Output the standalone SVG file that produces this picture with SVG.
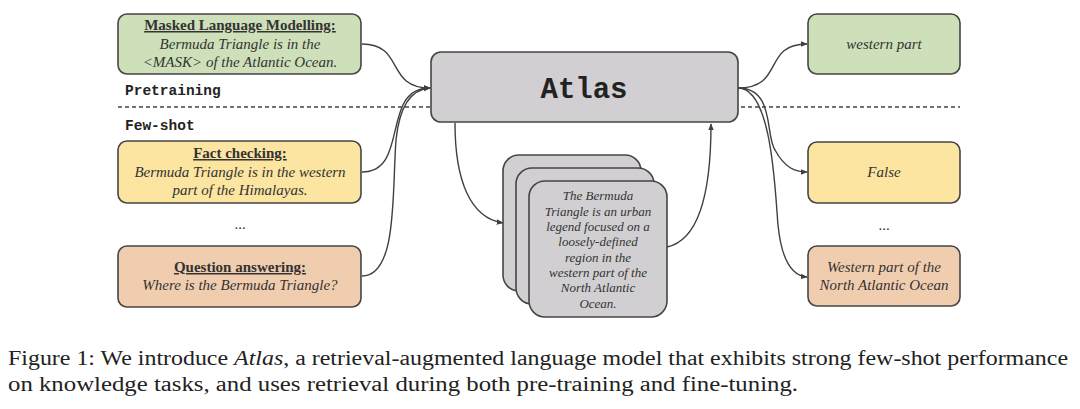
<svg xmlns="http://www.w3.org/2000/svg" width="1080" height="409" viewBox="0 0 1080 409">
<style>
.box{stroke:#454545;stroke-width:1.6}
.g{fill:#cde0b9}.y{fill:#fbe5a0}.o{fill:#f1cdb0}.gr{fill:#d1cfd1}
.t{font-family:"Liberation Serif","Times New Roman","DejaVu Serif",serif;font-size:15px;fill:#333;text-anchor:middle}
.i{font-style:italic}
.b{font-weight:bold;text-decoration:underline}
.m{font-family:"Liberation Mono","Courier New","DejaVu Sans Mono",monospace;font-weight:bold;fill:#222}
.c{fill:none;stroke:#404040;stroke-width:1.4}
.cap{font-family:"Liberation Serif","Times New Roman","DejaVu Serif",serif;font-size:20.5px;fill:#222}
</style>
<defs>
<marker id="ah" viewBox="0 0 10 10" refX="9" refY="5" markerWidth="7" markerHeight="7" markerUnits="userSpaceOnUse" orient="auto">
<path d="M0,1 L10,5 L0,9 z" fill="#404040"/>
</marker>
</defs>
<rect width="1080" height="409" fill="#fff"/>
<line x1="118" y1="107" x2="960" y2="107" stroke="#444" stroke-width="1.4" stroke-dasharray="4,3"/>
<text class="m" x="125" y="95" font-size="14.5">Pretraining</text>
<text class="m" x="125" y="130" font-size="14.5">Few-shot</text>

<g id="connectors">
<path class="c" marker-end="url(#ah)" d="M362,44 C405,44 385,88 430,88"/>
<path class="c" marker-end="url(#ah)" d="M362,172 C410,172 380,88 430,88"/>
<path class="c" marker-end="url(#ah)" d="M362,276 C398,276 392,190 396,140 C400,100 415,89 430,88"/>
<path class="c" marker-end="url(#ah)" d="M455,123 C455,180 470,218 503,223"/>
<path class="c" marker-end="url(#ah)" d="M667,247 C700,240 711,190 711,124"/>
<path class="c" marker-end="url(#ah)" d="M738,88 C785,88 762,44 807,44"/>
<path class="c" marker-end="url(#ah)" d="M738,88 C775,88 765,135 775,150 C785,168 795,172 807,172"/>
<path class="c" marker-end="url(#ah)" d="M738,88 C772,88 775,190 778,225 C782,265 795,276 807,277"/>
</g>

<g id="mlm">
<rect class="box g" x="118" y="14" width="243" height="60" rx="9"/>
<text class="t b" x="240" y="30">Masked Language Modelling:</text>
<text class="t i" x="240" y="49">Bermuda Triangle is in the</text>
<text class="t i" x="240" y="67">&lt;MASK&gt; of the Atlantic Ocean.</text>
</g>
<g id="fact">
<rect class="box y" x="118" y="141" width="243" height="62" rx="9"/>
<text class="t b" x="240" y="158">Fact checking:</text>
<text class="t i" x="240" y="177">Bermuda Triangle is in the western</text>
<text class="t i" x="240" y="195">part of the Himalayas.</text>
</g>
<text class="t" x="240" y="229" font-size="13">...</text>
<g id="qa">
<rect class="box o" x="118" y="246" width="243" height="61" rx="9"/>
<text class="t b" x="240" y="272">Question answering:</text>
<text class="t i" x="240" y="290">Where is the Bermuda Triangle?</text>
</g>

<g id="atlas">
<rect class="box gr" x="431" y="52" width="307" height="70" rx="10"/>
<text class="m" x="584" y="98" font-size="29" text-anchor="middle">Atlas</text>
</g>

<g id="docs">
<rect class="box gr" x="503" y="155" width="138" height="136" rx="16"/>
<rect class="box gr" x="516" y="168" width="138" height="136" rx="16"/>
<rect class="box gr" x="529" y="181" width="138" height="136" rx="16"/>
<g class="t i">
<text x="598" y="200" style="font-size:13px">The Bermuda</text>
<text x="598" y="216" style="font-size:13px">Triangle is an urban</text>
<text x="598" y="231" style="font-size:13px">legend focused on a</text>
<text x="598" y="246" style="font-size:13px">loosely-defined</text>
<text x="598" y="262" style="font-size:13px">region in the</text>
<text x="598" y="277" style="font-size:13px">western part of the</text>
<text x="598" y="292" style="font-size:13px">North Atlantic</text>
<text x="598" y="308" style="font-size:13px">Ocean.</text>
</g>
</g>

<g id="out-mlm">
<rect class="box g" x="808" y="14" width="152" height="60" rx="9"/>
<text class="t i" x="884" y="49">western part</text>
</g>
<g id="out-fact">
<rect class="box y" x="808" y="142" width="152" height="61" rx="9"/>
<text class="t i" x="884" y="177">False</text>
</g>
<text class="t" x="884" y="230" font-size="13">...</text>
<g id="out-qa">
<rect class="box o" x="808" y="246" width="152" height="60" rx="9"/>
<text class="t i" x="884" y="272">Western part of the</text>
<text class="t i" x="884" y="290">North Atlantic Ocean</text>
</g>

<text class="cap" x="8" y="365" textLength="1060" lengthAdjust="spacingAndGlyphs">Figure 1: We introduce <tspan font-style="italic">Atlas</tspan>, a retrieval-augmented language model that exhibits strong few-shot performance</text>
<text class="cap" x="8" y="391" textLength="790" lengthAdjust="spacingAndGlyphs">on knowledge tasks, and uses retrieval during both pre-training and fine-tuning.</text>
</svg>
